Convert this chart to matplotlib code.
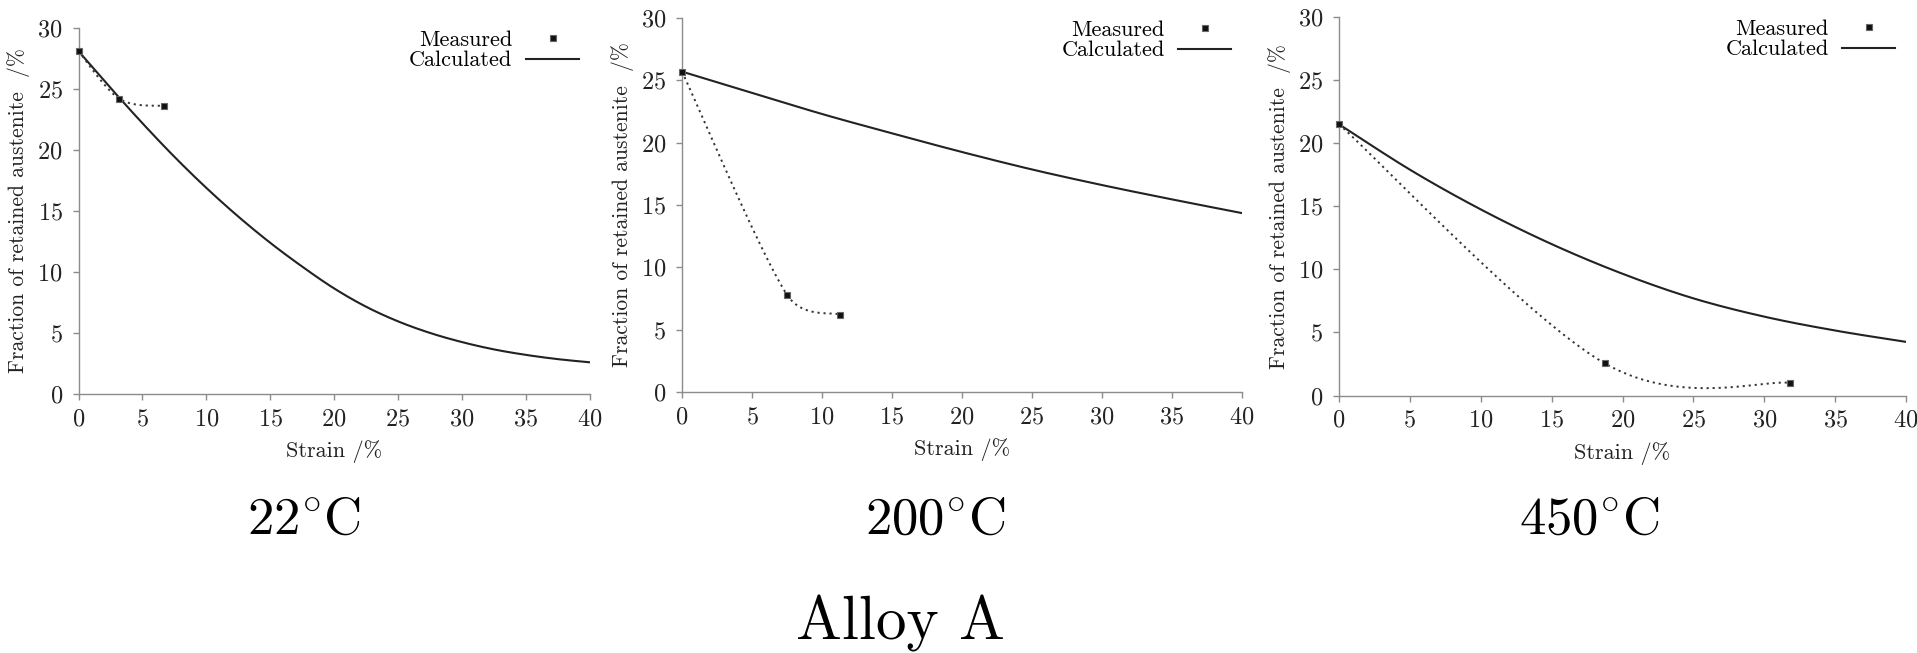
import numpy as np
import matplotlib
matplotlib.use("Agg")
import matplotlib.pyplot as plt

plt.rcParams['font.family'] = ['cmr10', 'DejaVu Serif']
plt.rcParams['mathtext.fontset'] = 'cm'
plt.rcParams['axes.formatter.use_mathtext'] = True

# calculated curves
calc_strain_22 = [0, 2.5, 5, 7.5, 10, 12.5, 15, 17.5, 20, 22.5, 25, 27.5, 30, 32.5, 35, 37.5, 40]
calc_22 = [28.1, 25.1, 22.2, 19.45, 16.9, 14.55, 12.4, 10.45, 8.66, 7.16, 5.96, 5.01, 4.26, 3.66, 3.21, 2.86, 2.6]
calc_strain = [0, 5, 10, 15, 20, 25, 30, 35, 40]
calc_200 = [25.7, 24.0, 22.3, 20.75, 19.25, 17.85, 16.6, 15.45, 14.35]
calc_450 = [21.5, 17.9, 14.75, 12.0, 9.65, 7.7, 6.25, 5.15, 4.25]

# measured retained austenite
meas_strain_22 = [0, 3.2, 6.7]
meas_22 = [28.1, 24.2, 23.6]
meas_strain_200 = [0, 7.5, 11.3]
meas_200 = [25.7, 7.8, 6.2]
meas_strain_450 = [0, 18.75, 31.85]
meas_450 = [21.5, 2.55, 1.0]

temps = [r'$22^{\circ}$C', r'$200^{\circ}$C', r'$450^{\circ}$C']

# axes boxes in pixels: left, top, right, bottom
boxes = [(78.5, 28, 589.5, 394), (682, 18, 1242, 392), (1339, 17, 1906, 395.5)]
temp_x = [304, 935, 1589]

W, H = 1917, 653
GRID = '#8c8c8c'
INK = '#222222'


def smooth(x, y, n=40, sx=14.0, sy=12.5):
    # Bezier smoothing through the points (spreadsheet-style smoothed line),
    # control arms capped at half the segment length
    p = np.column_stack([np.asarray(x, float) * sx, np.asarray(y, float) * sy])
    ext = np.vstack([p[0], p, p[-1]])
    arms = (ext[2:] - ext[:-2]) / 6
    t = np.linspace(0, 1, n)[:, None]
    out = []
    for i in range(len(p) - 1):
        b0, b3 = p[i], p[i + 1]
        cap = 0.5 * np.linalg.norm(b3 - b0)
        a0, a1 = arms[i], arms[i + 1]
        a0 = a0 * min(1, cap / max(np.linalg.norm(a0), 1e-9))
        a1 = a1 * min(1, cap / max(np.linalg.norm(a1), 1e-9))
        b1, b2 = b0 + a0, b3 - a1
        seg = ((1 - t) ** 3) * b0 + 3 * ((1 - t) ** 2) * t * b1 + 3 * (1 - t) * t ** 2 * b2 + t ** 3 * b3
        out.append(seg if i == 0 else seg[1:])
    out = np.vstack(out)
    return out[:, 0] / sx, out[:, 1] / sy


fig = plt.figure(figsize=(W / 100, H / 100), dpi=100)

series = [
    (calc_strain_22, calc_22, meas_strain_22, meas_22),
    (calc_strain, calc_200, meas_strain_200, meas_200),
    (calc_strain, calc_450, meas_strain_450, meas_450),
]

for (l, t, r, b), (cx, cy, mx, my), label, tx in zip(boxes, series, temps, temp_x):
    ax = fig.add_axes([l / W, 1 - b / H, (r - l) / W, (b - t) / H])

    cx_s, cy_s = smooth(cx, cy, 20)
    calc_line, = ax.plot(cx_s, cy_s, color=INK, lw=1.5, label='Calculated')
    mx_s, my_s = smooth(mx, my, 60)
    ax.plot(mx_s, my_s, color='#333333', lw=1.4, ls=(0, (1.1, 2.0)))
    meas_pts, = ax.plot(mx, my, 's', ms=4.6, mfc='#111111', mec='#666666', mew=0.8,
                        ls='none', label='Measured', clip_on=False, zorder=5)

    ax.set_xlim(0, 40)
    ax.set_ylim(0, 30)
    ax.set_xticks(np.arange(0, 41, 5))
    ax.set_yticks(np.arange(0, 31, 5))
    for side in ('top', 'right'):
        ax.spines[side].set_visible(False)
    for side in ('left', 'bottom'):
        ax.spines[side].set_color(GRID)
        ax.spines[side].set_linewidth(1.0)
    ax.tick_params(axis='both', direction='out', length=4.3, width=1.0, color=GRID,
                   labelsize=17.5, labelcolor=INK)
    ax.tick_params(axis='y', pad=7)
    ax.tick_params(axis='x', pad=6)

    ax.set_xlabel('Strain /%', fontsize=16, color=INK, labelpad=7)
    ax.set_ylabel('Fraction of retained austenite  /%', fontsize=15.5, color=INK, labelpad=5)

    ax.legend(handles=[meas_pts, calc_line], loc='upper right', bbox_to_anchor=(0.993, 1.012),
              frameon=False, markerfirst=False, numpoints=1, fontsize=16,
              handlelength=2.4, handletextpad=0.6, labelspacing=0.05,
              borderaxespad=0, borderpad=0.3)

    fig.text(tx / W, 1 - 520 / H, label, ha='center', va='center', fontsize=38, color='black')

fig.text(900 / W, 1 - 623 / H, 'Alloy A', ha='center', va='center', fontsize=44, color='black')

fig.savefig('out.png', dpi=100, facecolor='white')
